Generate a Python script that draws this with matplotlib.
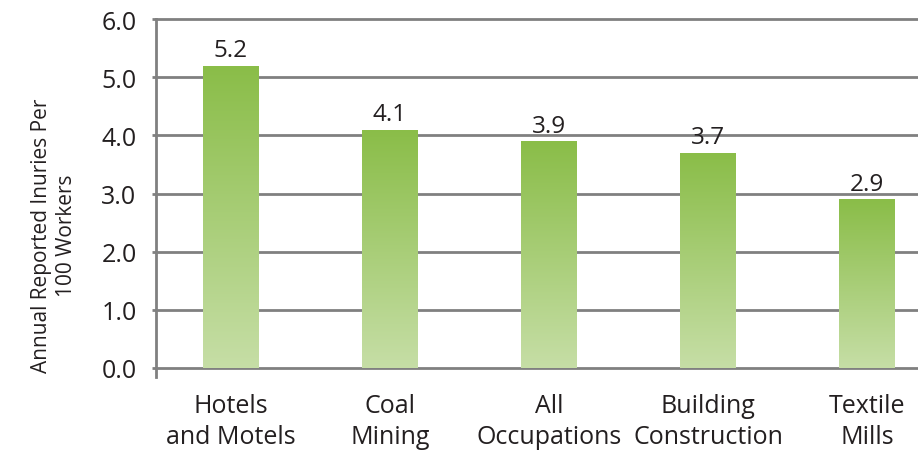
import matplotlib
matplotlib.use("Agg")
import matplotlib.pyplot as plt
import numpy as np
from matplotlib.colors import LinearSegmentedColormap

categories = ["Hotels\nand Motels", "Coal\nMining", "All\nOccupations", "Building\nConstruction", "Textile\nMills"]
values = [5.2, 4.1, 3.9, 3.7, 2.9]
yticks = [0.0, 1.0, 2.0, 3.0, 4.0, 5.0, 6.0]

plt.rcParams['font.family'] = ['Open Sans', 'DejaVu Sans']
fig = plt.figure(figsize=(9.18, 4.52), dpi=100)
ax = fig.add_axes([156/918, 1-369/452, 1-156/918, 349/452])

grid_c = "#808080"
txt_c = "#231f20"
ax.set_ylim(0, 6)
ax.set_xlim(-0.47, 4.32)
for y in yticks:
    ax.axhline(y, color=grid_c, lw=2, zorder=1, clip_on=False)

cmap = LinearSegmentedColormap.from_list("g", ["#c6dea6", "#8abd48"])
grad = np.linspace(0, 1, 256).reshape(-1, 1)
w = 0.35
x = np.arange(len(categories))
bars = ax.bar(x, values, width=w, color="none", zorder=2)
for b, v in zip(bars, values):
    x0 = b.get_x()
    im = ax.imshow(grad, extent=[x0, x0 + w, 0, v], origin="lower", cmap=cmap,
                   aspect="auto", zorder=2)
    im.set_clip_path(b)
    ax.text(b.get_x() + w/2, v + 0.16, f"{v:.1f}", ha="center", va="baseline",
            fontsize=17.5, color=txt_c)
ax.set_xlim(-0.47, 4.32)
ax.set_ylim(0, 6)

for s in ["top", "right", "bottom"]:
    ax.spines[s].set_visible(False)
ax.spines["left"].set_color(grid_c)
ax.spines["left"].set_linewidth(2)
ax.spines["left"].set_bounds(-0.15, 6)

ax.set_yticks(yticks)
ax.set_yticklabels([f"{t:.1f}" for t in yticks], fontsize=18, color=txt_c)
ax.tick_params(axis="y", length=3, width=2, color=grid_c, pad=11)
ax.set_xticks(x)
ax.set_xticklabels(categories, fontsize=18, color=txt_c, linespacing=1.3)
ax.tick_params(axis="x", length=0, pad=18)

fig.text(54/918, 1-236/452, "Annual Reported Inuries Per\n100 Workers", rotation=90,
         ha="center", va="center", fontsize=15, color=txt_c, linespacing=1.3,
         multialignment="center")

fig.savefig("out.png", dpi=100)
